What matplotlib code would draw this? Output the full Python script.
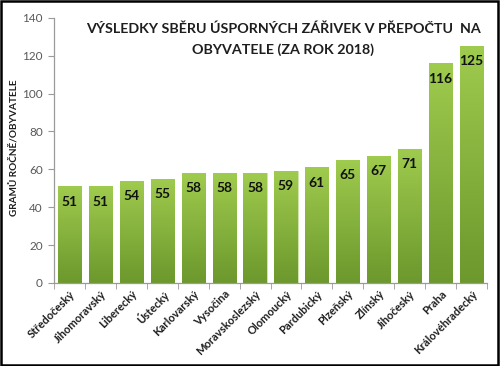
import matplotlib
matplotlib.use("Agg")
import matplotlib.pyplot as plt
import numpy as np
from matplotlib.colors import LinearSegmentedColormap
from matplotlib.patches import Rectangle

regions = ["Středočeský", "Jihomoravský", "Liberecký", "Ústecký", "Karlovarský",
           "Vysočina", "Moravskoslezský", "Olomoucký", "Pardubický", "Plzeňský",
           "Zlínský", "Jihočeský", "Praha", "Královéhradecký"]
values = [51, 51, 54, 55, 58, 58, 58, 59, 61, 65, 67, 71, 116, 125]
yticks = [0, 20, 40, 60, 80, 100, 120, 140]
title_lines = ["VÝSLEDKY SBĚRU ÚSPORNÝCH ZÁŘIVEK V PŘEPOČTU  NA",
               "OBYVATELE (ZA ROK 2018)"]
ylabel = "GRAMŮ ROČNĚ/OBYVATELE"

plt.rcParams['font.family'] = ['Lato', 'DejaVu Sans']

fig = plt.figure(figsize=(5, 3.66), dpi=100)
ax = fig.add_axes([0.108, 0.227, 0.866, 0.724])

x = np.arange(len(regions))
bars = ax.bar(x, values, width=0.75, color='#8BB840', edgecolor='#D2E6AC', linewidth=0.6, zorder=2)

cmap = LinearSegmentedColormap.from_list('g', ['#6C982D', '#9FCB4E'])
grad = np.linspace(0, 1, 256).reshape(-1, 1)
for b in bars:
    x0, w, h = b.get_x(), b.get_width(), b.get_height()
    im = ax.imshow(grad, cmap=cmap, origin='lower', aspect='auto',
                   extent=[x0, x0 + w, 0, h], zorder=2.5)
    im.set_clip_path(b)

for xi, v in zip(x, values):
    ax.text(xi, v - 8, f"{v}", ha='center', va='center', fontsize=10,
            fontweight='bold', color='#111111', zorder=4)

ax.set_xlim(-0.5, len(regions) - 0.5)
ax.set_ylim(0, 140)
ax.set_yticks(yticks)
ax.set_yticklabels([str(t) for t in yticks], fontsize=8.5, color='#595959')
ax.set_xticks(x)
ax.set_xticklabels(regions, rotation=45, ha='right', rotation_mode='anchor',
                   fontsize=8, fontweight='bold', color='#1E1E1E')
ax.tick_params(axis='x', length=0, pad=4)
ax.set_xticks(np.arange(-0.5, len(regions), 1), minor=True)
ax.tick_params(axis='x', which='minor', length=4, color='#9A9A9A')
ax.tick_params(axis='y', length=4, color='#9A9A9A', pad=4)

for s in ['top', 'right']:
    ax.spines[s].set_visible(False)
for s in ['left', 'bottom']:
    ax.spines[s].set_color('#9A9A9A')
    ax.spines[s].set_linewidth(0.9)

fig.text(0.028, 0.596, ylabel, rotation=90, ha='center', va='center',
         fontsize=7.2, fontweight='bold', color='#1E1E1E')

fig.text(0.566, 1 - 29 / 366, title_lines[0], ha='center', va='center', fontsize=10.3,
         fontweight='bold', color='#1E1E1E')
fig.text(0.566, 1 - 50 / 366, title_lines[1], ha='center', va='center', fontsize=10.3,
         fontweight='bold', color='#1E1E1E')

fig.patches.append(Rectangle((0.002, 0.003), 0.994, 0.994, transform=fig.transFigure,
                             fill=False, edgecolor='black', linewidth=1.8))

fig.savefig("out.png", dpi=100)
